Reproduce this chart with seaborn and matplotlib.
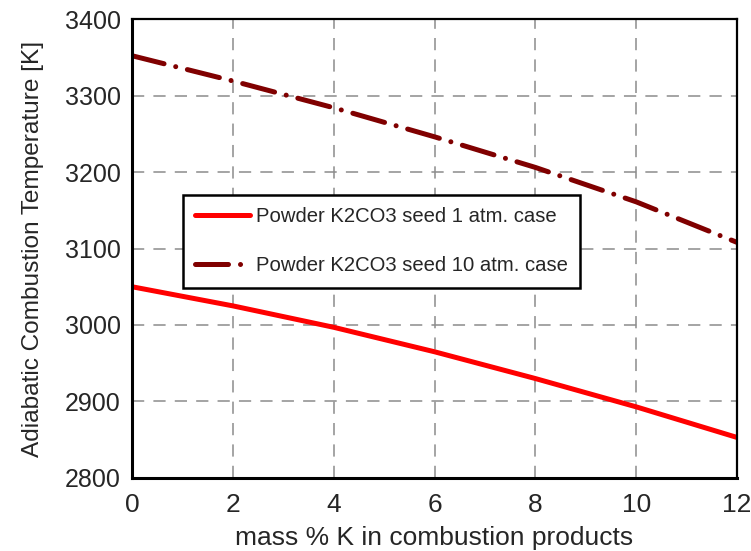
import numpy as np
import pandas as pd
import matplotlib
matplotlib.use("Agg")
import matplotlib.pyplot as plt
import seaborn as sns
from matplotlib.ticker import MultipleLocator

# mass % K in combustion products
mass_pct_k = [0, 2, 4, 6, 8, 10, 12]
# adiabatic combustion temperature [K]
temp_1atm = [3050, 3025, 2997, 2965, 2930, 2893, 2853]
temp_10atm = [3352, 3319, 3284, 3246, 3206, 3161, 3108]
series_names = ["Powder K2CO3 seed 1 atm. case", "Powder K2CO3 seed 10 atm. case"]

df = pd.DataFrame({
    "x": mass_pct_k * 2,
    "T": temp_1atm + temp_10atm,
    "case": [series_names[0]] * len(mass_pct_k) + [series_names[1]] * len(mass_pct_k),
})

sns.set_style("white")
plt.rcParams["font.family"] = ["Liberation Sans", "DejaVu Sans"]

fig = plt.figure(figsize=(7.51, 5.51), dpi=100)
ax = fig.add_axes([0.1758, 0.1325, 0.8056, 0.8330])

palette = {series_names[0]: "#ff0000", series_names[1]: "#800000"}
sns.lineplot(data=df, x="x", y="T", hue="case", palette=palette, ax=ax,
             linewidth=3.6, legend=False)

dashdot = (0, (6.6, 2.4, 0.01, 2.4))
lines = ax.get_lines()
lines[0].set_solid_capstyle("butt")
lines[1].set_linestyle(dashdot)
lines[1].set_dash_capstyle("round")

ax.set_xlim(0, 12)
ax.set_ylim(2800, 3400)
ax.xaxis.set_major_locator(MultipleLocator(2))
ax.xaxis.set_minor_locator(MultipleLocator(1))
ax.yaxis.set_major_locator(MultipleLocator(100))
ax.yaxis.set_minor_locator(MultipleLocator(50))

ax.grid(True, which="major", color="#8c8c8c", linestyle=(0, (8, 6)), linewidth=1.1)
ax.set_axisbelow(True)

for side in ["left", "bottom"]:
    ax.spines[side].set_linewidth(2.2)
    ax.spines[side].set_color("black")
for side in ["top", "right"]:
    ax.spines[side].set_linewidth(1.6)
    ax.spines[side].set_color("black")

ax.tick_params(axis="both", which="major", direction="inout", length=8, width=1.8,
               color="black", top=False, right=False)
ax.tick_params(axis="both", which="minor", direction="inout", length=5, width=1.6,
               color="black", top=False, right=False)
ax.tick_params(axis="x", which="major", labelsize=19, pad=7)
ax.tick_params(axis="y", which="major", labelsize=18, pad=4)

ax.set_xlabel("mass % K in combustion products", fontsize=19, labelpad=6)
ax.set_ylabel("Adiabatic Combustion Temperature [K]", fontsize=17.6, labelpad=15)

handles = [
    plt.Line2D([], [], color="#ff0000", linewidth=3.6, solid_capstyle="round"),
    plt.Line2D([], [], color="#800000", linewidth=3.6,
               linestyle=dashdot, dash_capstyle="round"),
]
leg = ax.legend(handles, series_names, loc="upper left", bbox_to_anchor=(0.084, 0.617),
                fontsize=14.6, frameon=True, fancybox=False, framealpha=1,
                edgecolor="black", handlelength=2.7, handletextpad=0.3,
                labelspacing=1.5, borderpad=0.6, borderaxespad=0)
leg.get_frame().set_linewidth(1.8)

fig.savefig("out.png", dpi=100)
